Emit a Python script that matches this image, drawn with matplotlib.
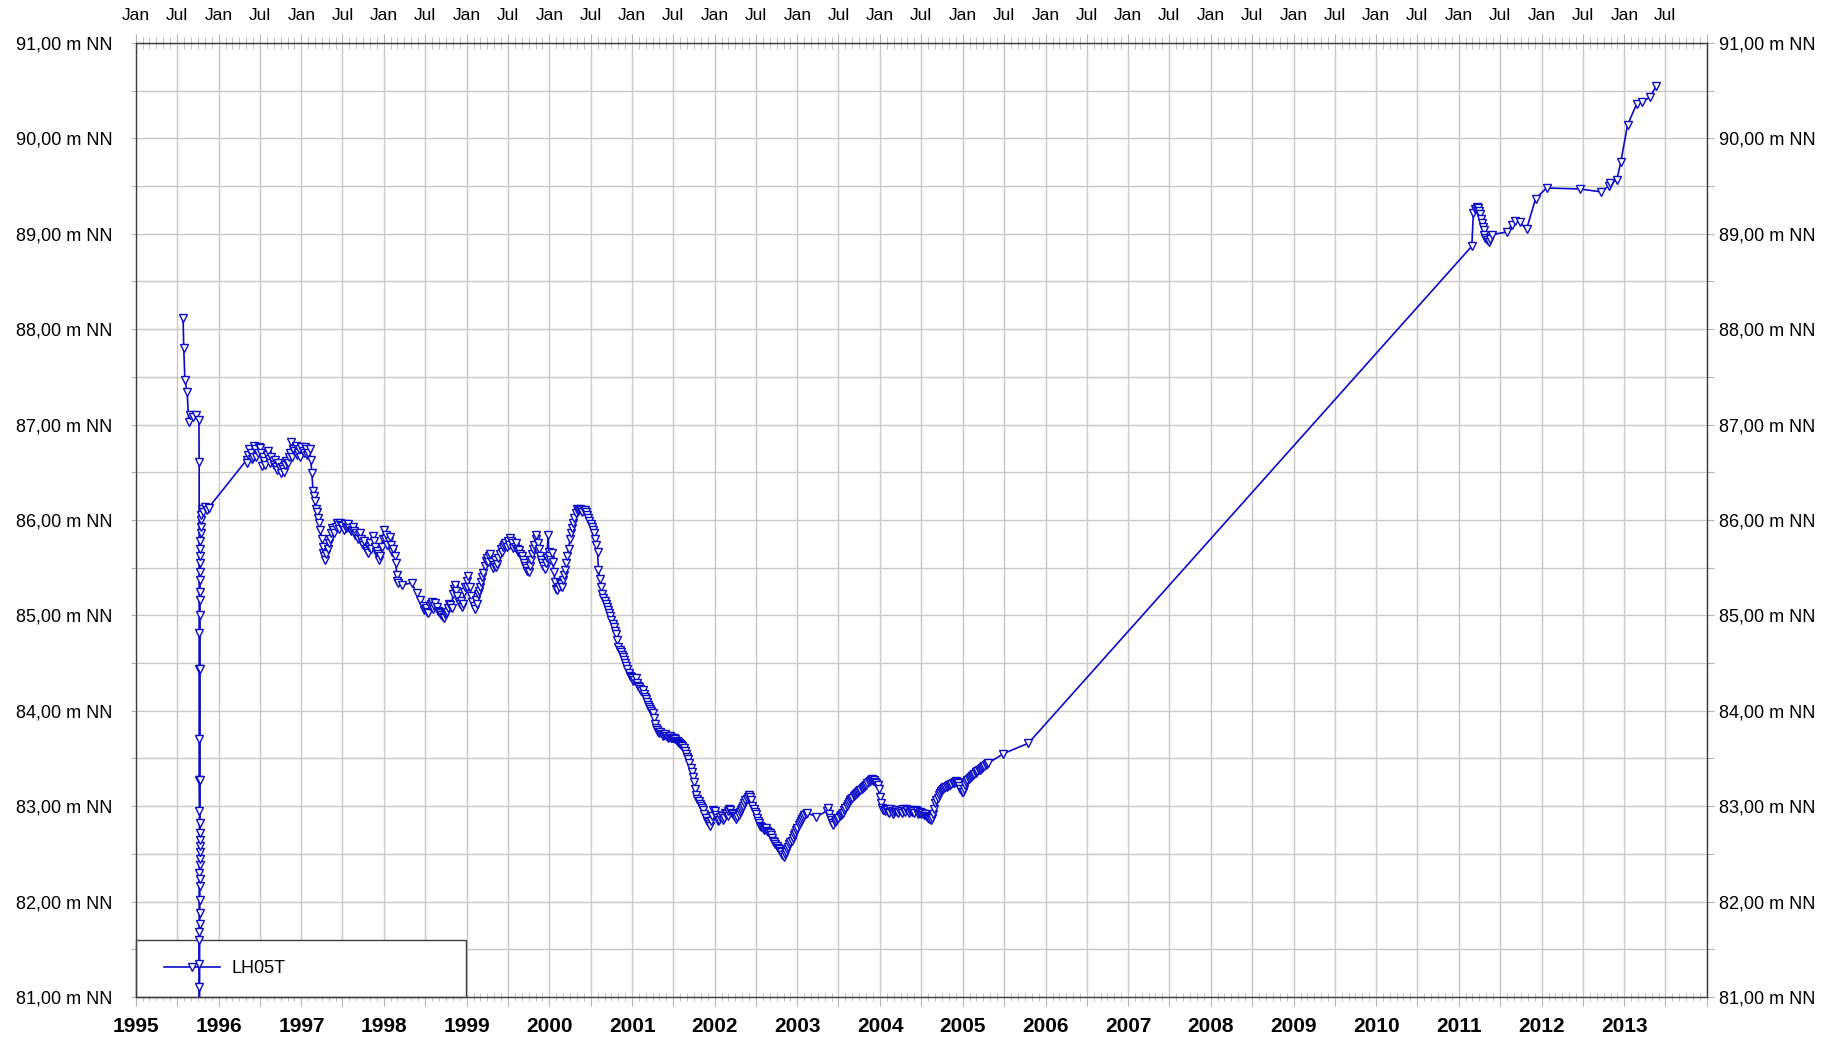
import matplotlib
matplotlib.use('Agg')
import matplotlib.pyplot as plt
import matplotlib.dates as mdates
from matplotlib.ticker import MultipleLocator, FuncFormatter
from matplotlib.legend_handler import HandlerLine2D
import pandas as pd

plt.rcParams['font.family'] = ['Liberation Sans', 'DejaVu Sans']

# groundwater level LH05T, (month-day, m NN) per year
lvl_1995 = [('07-28', 88.12), ('07-31', 87.80), ('08-05', 87.47), ('08-15', 87.34), ('08-22', 87.03),
            ('08-27', 87.10), ('09-10', 87.08), ('09-25', 87.10), ('10-06', 87.05), ('10-07', 86.61),
            ('10-07', 84.82), ('10-07', 84.44), ('10-07', 83.70), ('10-07', 83.27), ('10-08', 82.95),
            ('10-08', 82.30), ('10-08', 81.60), ('10-08', 81.11), ('10-08', 80.80), ('10-08', 81.35),
            ('10-08', 81.68), ('10-09', 81.77), ('10-09', 81.88), ('10-09', 82.02), ('10-09', 82.16),
            ('10-09', 82.24), ('10-09', 82.38), ('10-10', 82.45), ('10-10', 82.52), ('10-10', 82.58),
            ('10-10', 82.65), ('10-10', 82.72), ('10-10', 82.82), ('10-11', 83.27), ('10-11', 84.44),
            ('10-11', 85.00), ('10-11', 85.16), ('10-11', 85.25), ('10-11', 85.37), ('10-12', 85.45),
            ('10-12', 85.55), ('10-12', 85.62), ('10-12', 85.70), ('10-12', 85.78), ('10-13', 85.86),
            ('10-13', 85.93), ('10-14', 86.00), ('10-16', 86.05), ('10-20', 86.12), ('10-26', 86.08),
            ('11-02', 86.14), ('11-10', 86.10), ('11-18', 86.13)]
lvl_1996 = [('05-04', 86.63), ('05-06', 86.60), ('05-11', 86.68), ('05-16', 86.74), ('05-21', 86.70),
            ('05-26', 86.64), ('06-01', 86.66), ('06-06', 86.78), ('06-11', 86.74), ('06-16', 86.66),
            ('06-21', 86.70), ('06-26', 86.76), ('07-01', 86.75), ('07-06', 86.70), ('07-11', 86.57),
            ('07-16', 86.66), ('07-21', 86.62), ('07-26', 86.58), ('08-01', 86.68), ('08-06', 86.72),
            ('08-11', 86.64), ('08-16', 86.60), ('08-21', 86.66), ('08-26', 86.62), ('09-01', 86.58),
            ('09-06', 86.63), ('09-11', 86.56), ('09-16', 86.52), ('09-21', 86.60), ('09-26', 86.55),
            ('10-01', 86.49), ('10-06', 86.56), ('10-11', 86.53), ('10-16', 86.50), ('10-21', 86.58),
            ('10-26', 86.62), ('11-01', 86.60), ('11-06', 86.66), ('11-11', 86.70), ('11-17', 86.82),
            ('11-21', 86.66), ('11-26', 86.74), ('12-01', 86.72), ('12-06', 86.78), ('12-11', 86.68),
            ('12-16', 86.70), ('12-21', 86.74), ('12-26', 86.66)]
lvl_1997 = [('01-01', 86.77), ('01-06', 86.72), ('01-11', 86.70), ('01-16', 86.76), ('01-21', 86.74),
            ('01-26', 86.68), ('02-01', 86.70), ('02-06', 86.74), ('02-11', 86.63), ('02-16', 86.49),
            ('02-21', 86.30), ('02-26', 86.25), ('03-01', 86.20), ('03-06', 86.12), ('03-11', 86.08),
            ('03-16', 86.02), ('03-21', 85.97), ('03-26', 85.90), ('04-01', 85.80), ('04-04', 85.72),
            ('04-08', 85.65), ('04-12', 85.62), ('04-16', 85.58), ('04-21', 85.64), ('04-26', 85.70),
            ('05-01', 85.76), ('05-06', 85.80), ('05-11', 85.86), ('05-16', 85.92), ('05-21', 85.90),
            ('05-26', 85.86), ('06-01', 85.93), ('06-06', 85.97), ('06-11', 85.95), ('06-16', 85.91),
            ('06-21', 85.97), ('06-26', 85.95), ('07-01', 85.94), ('07-06', 85.90), ('07-11', 85.96),
            ('07-16', 85.92), ('07-21', 85.93), ('07-26', 85.96), ('08-01', 85.92), ('08-06', 85.88),
            ('08-11', 85.90), ('08-16', 85.93), ('08-21', 85.88), ('08-26', 85.84), ('09-01', 85.86),
            ('09-06', 85.80), ('09-11', 85.84), ('09-16', 85.86), ('09-21', 85.80), ('09-26', 85.76),
            ('10-01', 85.74), ('10-06', 85.78), ('10-11', 85.70), ('10-16', 85.68), ('10-21', 85.65),
            ('10-26', 85.72), ('11-01', 85.76), ('11-06', 85.70), ('11-11', 85.83), ('11-16', 85.78),
            ('11-21', 85.72), ('11-26', 85.66), ('12-01', 85.68), ('12-06', 85.64), ('12-11', 85.58),
            ('12-16', 85.62), ('12-21', 85.72), ('12-26', 85.80)]
lvl_1998 = [('01-01', 85.90), ('01-06', 85.80), ('01-11', 85.84), ('01-16', 85.74), ('01-21', 85.78),
            ('01-26', 85.82), ('02-01', 85.74), ('02-06', 85.66), ('02-11', 85.70), ('02-16', 85.62),
            ('02-21', 85.55), ('02-26', 85.42), ('03-01', 85.36), ('03-05', 85.34), ('03-22', 85.32),
            ('05-03', 85.34), ('05-25', 85.23), ('06-08', 85.16), ('06-21', 85.10), ('06-26', 85.06),
            ('07-01', 85.07), ('07-06', 85.08), ('07-11', 85.04), ('07-16', 85.02), ('07-21', 85.10),
            ('07-26', 85.12), ('08-01', 85.14), ('08-06', 85.07), ('08-11', 85.10), ('08-16', 85.13),
            ('08-21', 85.09), ('08-26', 85.05), ('09-01', 85.04), ('09-06', 85.03), ('09-11', 85.00),
            ('09-16', 84.98), ('09-21', 84.97), ('09-26', 85.01), ('10-01', 85.02), ('10-06', 85.04),
            ('10-11', 85.08), ('10-16', 85.12), ('10-21', 85.11), ('10-26', 85.08), ('11-01', 85.22),
            ('11-06', 85.28), ('11-11', 85.32), ('11-16', 85.26), ('11-21', 85.20), ('11-26', 85.14),
            ('12-01', 85.12), ('12-06', 85.15), ('12-11', 85.09), ('12-16', 85.12), ('12-21', 85.25),
            ('12-26', 85.30)]
lvl_1999 = [('01-01', 85.30), ('01-04', 85.36), ('01-08', 85.41), ('01-14', 85.30), ('01-21', 85.20),
            ('01-26', 85.14), ('02-01', 85.10), ('02-06', 85.07), ('02-11', 85.16), ('02-16', 85.12),
            ('02-21', 85.22), ('02-26', 85.26), ('03-01', 85.30), ('03-06', 85.35), ('03-11', 85.40),
            ('03-16', 85.44), ('03-21', 85.52), ('03-26', 85.57), ('04-01', 85.60), ('04-06', 85.56),
            ('04-11', 85.62), ('04-16', 85.64), ('04-21', 85.56), ('04-26', 85.50), ('05-01', 85.53),
            ('05-06', 85.58), ('05-11', 85.51), ('05-16', 85.54), ('05-21', 85.60), ('05-26', 85.64),
            ('06-01', 85.70), ('06-06', 85.66), ('06-11', 85.72), ('06-16', 85.74), ('06-21', 85.76),
            ('06-26', 85.72), ('07-01', 85.78), ('07-06', 85.74), ('07-11', 85.81), ('07-16', 85.78),
            ('07-21', 85.76), ('07-26', 85.71), ('08-01', 85.72), ('08-06', 85.76), ('08-11', 85.70),
            ('08-16', 85.66), ('08-21', 85.69), ('08-26', 85.64), ('09-01', 85.62), ('09-06', 85.58),
            ('09-11', 85.55), ('09-16', 85.52), ('09-21', 85.50), ('09-26', 85.47), ('10-01', 85.46),
            ('10-06', 85.52), ('10-11', 85.58), ('10-16', 85.64), ('10-21', 85.70), ('10-26', 85.74),
            ('11-01', 85.80), ('11-05', 85.84), ('11-11', 85.76), ('11-16', 85.70), ('11-21', 85.62),
            ('11-26', 85.58), ('12-01', 85.55), ('12-06', 85.52), ('12-11', 85.49), ('12-16', 85.55),
            ('12-21', 85.60), ('12-26', 85.84), ('12-29', 85.66)]
lvl_2000 = [('01-01', 85.62), ('01-06', 85.58), ('01-11', 85.65), ('01-16', 85.56), ('01-21', 85.45),
            ('01-26', 85.35), ('02-01', 85.28), ('02-06', 85.27), ('02-11', 85.30), ('02-16', 85.34),
            ('02-21', 85.33), ('02-26', 85.30), ('03-01', 85.37), ('03-06', 85.42), ('03-11', 85.48),
            ('03-16', 85.55), ('03-21', 85.62), ('03-26', 85.70), ('04-01', 85.80), ('04-06', 85.86),
            ('04-11', 85.92), ('04-16', 85.97), ('04-21', 86.02), ('04-26', 86.07), ('05-01', 86.12),
            ('05-06', 86.09), ('05-11', 86.11), ('05-16', 86.12), ('05-21', 86.10), ('05-26', 86.08),
            ('06-01', 86.10), ('06-06', 86.11), ('06-11', 86.08), ('06-16', 86.05), ('06-21', 86.02),
            ('06-26', 85.99), ('07-01', 85.96), ('07-06', 85.93), ('07-11', 85.90), ('07-16', 85.86),
            ('07-21', 85.80), ('07-26', 85.74), ('08-01', 85.66), ('08-05', 85.48), ('08-11', 85.38),
            ('08-16', 85.30), ('08-21', 85.22), ('08-26', 85.18), ('09-01', 85.15), ('09-06', 85.12),
            ('09-11', 85.09), ('09-16', 85.06), ('09-21', 85.02), ('09-26', 84.99), ('10-01', 84.95),
            ('10-06', 84.91), ('10-11', 84.88), ('10-16', 84.84), ('10-21', 84.80), ('10-26', 84.74),
            ('11-01', 84.67), ('11-06', 84.64), ('11-11', 84.62), ('11-16', 84.59), ('11-21', 84.56),
            ('11-26', 84.53), ('12-01', 84.50), ('12-06', 84.47), ('12-11', 84.44), ('12-16', 84.40),
            ('12-21', 84.37), ('12-26', 84.35)]
lvl_2001 = [('01-01', 84.34), ('01-06', 84.31), ('01-11', 84.32), ('01-16', 84.34), ('01-21', 84.29),
            ('01-26', 84.26), ('02-01', 84.25), ('02-06', 84.23), ('02-11', 84.21), ('02-16', 84.22),
            ('02-21', 84.18), ('02-26', 84.14), ('03-01', 84.12), ('03-06', 84.09), ('03-11', 84.06),
            ('03-16', 84.04), ('03-21', 84.02), ('03-26', 84.00), ('04-01', 83.98), ('04-06', 83.92),
            ('04-11', 83.86), ('04-16', 83.82), ('04-21', 83.80), ('04-26', 83.78), ('05-01', 83.77),
            ('05-06', 83.78), ('05-11', 83.76), ('05-16', 83.74), ('05-21', 83.75), ('05-26', 83.76),
            ('06-01', 83.74), ('06-06', 83.72), ('06-11', 83.73), ('06-16', 83.74), ('06-21', 83.72),
            ('06-26', 83.71), ('07-01', 83.71), ('07-06', 83.72), ('07-11', 83.70), ('07-16', 83.68),
            ('07-21', 83.67), ('07-26', 83.66), ('08-01', 83.65), ('08-06', 83.64), ('08-11', 83.63),
            ('08-16', 83.61), ('08-21', 83.58), ('08-26', 83.55), ('09-01', 83.52), ('09-06', 83.49),
            ('09-11', 83.45), ('09-16', 83.40), ('09-21', 83.36), ('09-26', 83.31), ('10-01', 83.25),
            ('10-06', 83.18), ('10-11', 83.12), ('10-16', 83.08), ('10-21', 83.05), ('10-26', 83.02),
            ('11-01', 83.00), ('11-06', 82.98), ('11-11', 82.96), ('11-16', 82.92), ('11-21', 82.88),
            ('11-26', 82.85), ('12-01', 82.83), ('12-06', 82.81), ('12-11', 82.79), ('12-16', 82.84),
            ('12-21', 82.90), ('12-26', 82.96)]
lvl_2002 = [('01-01', 82.95), ('01-06', 82.91), ('01-11', 82.88), ('01-16', 82.84), ('01-21', 82.86),
            ('01-26', 82.89), ('02-01', 82.90), ('02-06', 82.86), ('02-11', 82.88), ('02-16', 82.93),
            ('02-21', 82.92), ('02-26', 82.90), ('03-01', 82.95), ('03-06', 82.97), ('03-11', 82.96),
            ('03-16', 82.93), ('03-21', 82.92), ('03-26', 82.90), ('04-01', 82.90), ('04-06', 82.87),
            ('04-11', 82.89), ('04-16', 82.91), ('04-21', 82.94), ('04-26', 82.96), ('05-01', 82.98),
            ('05-06', 83.00), ('05-11', 83.03), ('05-16', 83.06), ('05-21', 83.08), ('05-26', 83.10),
            ('06-01', 83.12), ('06-06', 83.10), ('06-11', 83.06), ('06-16', 83.00), ('06-21', 82.97),
            ('06-26', 82.94), ('07-01', 82.92), ('07-06', 82.88), ('07-11', 82.85), ('07-16', 82.82),
            ('07-21', 82.79), ('07-26', 82.78), ('08-01', 82.77), ('08-06', 82.75), ('08-11', 82.76),
            ('08-16', 82.77), ('08-21', 82.74), ('08-26', 82.73), ('09-01', 82.72), ('09-06', 82.70),
            ('09-11', 82.67), ('09-16', 82.64), ('09-21', 82.62), ('09-26', 82.60), ('10-01', 82.58),
            ('10-06', 82.56), ('10-11', 82.55), ('10-16', 82.53), ('10-21', 82.52), ('10-26', 82.49),
            ('11-01', 82.47), ('11-06', 82.50), ('11-11', 82.52), ('11-16', 82.55), ('11-21', 82.57),
            ('11-26', 82.60), ('12-01', 82.62), ('12-06', 82.64), ('12-11', 82.67), ('12-16', 82.70),
            ('12-21', 82.72), ('12-26', 82.75)]
lvl_2003 = [('01-01', 82.77), ('01-06', 82.80), ('01-11', 82.82), ('01-16', 82.85), ('01-21', 82.87),
            ('01-26', 82.89), ('02-01', 82.91), ('02-06', 82.92), ('02-11', 82.93), ('03-26', 82.89),
            ('05-11', 82.95), ('05-16', 82.98), ('05-21', 82.92), ('05-26', 82.88), ('05-31', 82.86),
            ('06-04', 82.82), ('06-08', 82.80), ('06-16', 82.83), ('06-21', 82.85), ('06-26', 82.87),
            ('07-01', 82.88), ('07-06', 82.90), ('07-11', 82.91), ('07-16', 82.92), ('07-21', 82.93),
            ('07-26', 82.96), ('08-01', 82.98), ('08-06', 83.00), ('08-11', 83.02), ('08-16', 83.04),
            ('08-21', 83.06), ('08-26', 83.08), ('09-01', 83.09), ('09-06', 83.11), ('09-11', 83.12),
            ('09-16', 83.13), ('09-21', 83.14), ('09-26', 83.15), ('10-01', 83.16), ('10-06', 83.17),
            ('10-11', 83.18), ('10-16', 83.19), ('10-21', 83.20), ('10-26', 83.21), ('11-01', 83.22),
            ('11-06', 83.24), ('11-11', 83.25), ('11-16', 83.26), ('11-21', 83.27), ('11-26', 83.28),
            ('12-01', 83.26), ('12-06', 83.27), ('12-11', 83.25), ('12-16', 83.24), ('12-21', 83.22),
            ('12-26', 83.18)]
lvl_2004 = [('01-01', 83.10), ('01-06', 83.03), ('01-11', 82.98), ('01-16', 82.96), ('01-21', 82.95),
            ('01-26', 82.97), ('02-01', 82.96), ('02-06', 82.94), ('02-11', 82.93), ('02-16', 82.97),
            ('02-21', 82.95), ('02-26', 82.92), ('03-01', 82.94), ('03-06', 82.95), ('03-11', 82.96),
            ('03-16', 82.94), ('03-21', 82.93), ('03-26', 82.96), ('04-01', 82.95), ('04-06', 82.93),
            ('04-11', 82.97), ('04-16', 82.95), ('04-21', 82.94), ('04-26', 82.97), ('05-01', 82.96),
            ('05-06', 82.93), ('05-11', 82.95), ('05-16', 82.96), ('05-21', 82.94), ('05-26', 82.95),
            ('06-01', 82.93), ('06-06', 82.96), ('06-11', 82.95), ('06-16', 82.92), ('06-21', 82.93),
            ('06-26', 82.94), ('07-01', 82.92), ('07-06', 82.93), ('07-11', 82.91), ('07-16', 82.92),
            ('07-21', 82.90), ('07-26', 82.89), ('08-01', 82.88), ('08-06', 82.87), ('08-11', 82.86),
            ('08-16', 82.88), ('08-21', 82.92), ('08-26', 82.97), ('09-01', 83.03), ('09-06', 83.06),
            ('09-11', 83.09), ('09-16', 83.12), ('09-21', 83.14), ('09-26', 83.16), ('10-01', 83.17),
            ('10-06', 83.18), ('10-11', 83.19), ('10-16', 83.20), ('10-21', 83.20), ('10-26', 83.21),
            ('11-01', 83.22), ('11-06', 83.22), ('11-11', 83.23), ('11-16', 83.24), ('11-21', 83.24),
            ('11-26', 83.25), ('12-01', 83.26), ('12-06', 83.25), ('12-11', 83.24), ('12-16', 83.21),
            ('12-21', 83.18), ('12-26', 83.15)]
lvl_2005 = [('01-01', 83.15), ('01-06', 83.18), ('01-11', 83.22), ('01-16', 83.25), ('01-21', 83.27),
            ('01-26', 83.29), ('02-01', 83.30), ('02-06', 83.31), ('02-11', 83.32), ('02-16', 83.33),
            ('02-21', 83.34), ('02-26', 83.35), ('03-01', 83.36), ('03-06', 83.37), ('03-11', 83.38),
            ('03-16', 83.38), ('03-21', 83.39), ('03-26', 83.40), ('04-01', 83.41), ('04-06', 83.42),
            ('04-11', 83.43), ('04-16', 83.44), ('04-23', 83.45), ('06-28', 83.55), ('10-17', 83.66)]
lvl_2011 = [('02-27', 88.87), ('03-06', 89.22), ('03-13', 89.26), ('03-20', 89.28), ('03-22', 89.25),
            ('03-25', 89.27), ('03-29', 89.24), ('04-05', 89.21), ('04-09', 89.16), ('04-12', 89.11),
            ('04-16', 89.07), ('04-20', 89.04), ('04-24', 88.99), ('04-28', 88.96), ('05-05', 88.93),
            ('05-12', 88.91), ('05-19', 88.95), ('05-26', 88.99), ('07-31', 89.02), ('08-22', 89.09),
            ('09-06', 89.13), ('09-27', 89.12), ('10-27', 89.05), ('12-06', 89.37)]
lvl_2012 = [('01-23', 89.48), ('06-17', 89.47), ('09-20', 89.44), ('10-23', 89.50), ('10-30', 89.53),
            ('11-28', 89.56), ('12-16', 89.75)]
lvl_2013 = [('01-15', 90.14), ('02-24', 90.36), ('03-18', 90.38), ('04-23', 90.43), ('05-22', 90.55)]

years = {1995: lvl_1995, 1996: lvl_1996, 1997: lvl_1997, 1998: lvl_1998, 1999: lvl_1999,
         2000: lvl_2000, 2001: lvl_2001, 2002: lvl_2002, 2003: lvl_2003, 2004: lvl_2004,
         2005: lvl_2005, 2011: lvl_2011, 2012: lvl_2012, 2013: lvl_2013}

rows = []
for yr, seg in years.items():
    for md, v in seg:
        rows.append((pd.Timestamp(f'{yr}-{md}'), v))
df = pd.DataFrame(rows, columns=['date', 'level'])
df = df.sort_values('date', kind='stable')

blue = '#0a0ac8'
grid_c = '#c8c8c8'
spine_c = '#404040'
tick_c = '#b4b4b4'

fig = plt.figure(figsize=(18.36, 10.40), dpi=100)
ax = fig.add_axes([136 / 1836, 43 / 1040, 1571 / 1836, 954 / 1040])

ax.plot(df['date'], df['level'], color=blue, lw=1.2, marker='v', ms=5.5,
        mfc='white', mec=blue, mew=1.0, label='LH05T', zorder=3)

ax.set_xlim(pd.Timestamp('1995-01-01'), pd.Timestamp('2014-01-01'))
ax.set_ylim(81, 91)

end = mdates.date2num(pd.Timestamp('2014-01-01'))


def year_fmt(x, pos):
    d = mdates.num2date(x)
    if x >= end - 1 or d.month != 1:
        return ''
    return str(d.year)


def month_fmt(x, pos):
    if x >= end - 1:
        return ''
    return mdates.num2date(x).strftime('%b')


def level_fmt(v, pos):
    if abs(v - round(v)) > 1e-6:
        return ''
    return f'{v:.2f}'.replace('.', ',') + ' m NN'


ax.xaxis.set_major_locator(mdates.MonthLocator([1, 7]))
ax.xaxis.set_minor_locator(mdates.MonthLocator())
ax.xaxis.set_major_formatter(FuncFormatter(year_fmt))
ax.yaxis.set_major_locator(MultipleLocator(0.5))
ax.yaxis.set_major_formatter(FuncFormatter(level_fmt))

ax.set_axisbelow(True)
ax.grid(True, which='major', color=grid_c, lw=1.0)

for s in ax.spines.values():
    s.set_color(spine_c)
    s.set_linewidth(1.0)

ax.tick_params(axis='x', which='major', direction='out', length=6.5, color=tick_c,
               labelsize=15, pad=8)
ax.tick_params(axis='x', which='minor', direction='inout', length=6, color=tick_c)
ax.tick_params(axis='y', which='major', direction='out', length=3.6, color=tick_c,
               labelsize=13, pad=13.5, right=False)
for lab in ax.get_xticklabels():
    lab.set_fontweight('bold')

ax_top = ax.secondary_xaxis('top')
ax_top.xaxis.set_major_locator(mdates.MonthLocator([1, 7]))
ax_top.xaxis.set_minor_locator(mdates.MonthLocator())
ax_top.xaxis.set_major_formatter(FuncFormatter(month_fmt))
ax_top.tick_params(axis='x', which='major', direction='out', length=6.5, color=tick_c,
                   labelsize=12.5, pad=8)
ax_top.tick_params(axis='x', which='minor', direction='inout', length=8, color=tick_c)
ax_top.spines['top'].set_color(spine_c)

ax_r = ax.secondary_yaxis('right')
ax_r.yaxis.set_major_locator(MultipleLocator(0.5))
ax_r.yaxis.set_major_formatter(FuncFormatter(level_fmt))
ax_r.tick_params(axis='y', direction='out', length=4.8, color=tick_c, labelsize=13, pad=3.5)
ax_r.spines['right'].set_color(spine_c)

leg = ax.legend(loc='lower left', bbox_to_anchor=(0, 0, (466 - 136) / 1571, 0.06),
                mode='expand', borderaxespad=0, fancybox=False, framealpha=1,
                edgecolor=spine_c, fontsize=13, handlelength=3.55, handletextpad=0.65,
                borderpad=1.1, numpoints=1,
                handler_map={plt.Line2D: HandlerLine2D(xpad=0.45)})
leg.get_frame().set_linewidth(1.0)
leg.set_zorder(2)

fig.savefig('out.png', dpi=100)
